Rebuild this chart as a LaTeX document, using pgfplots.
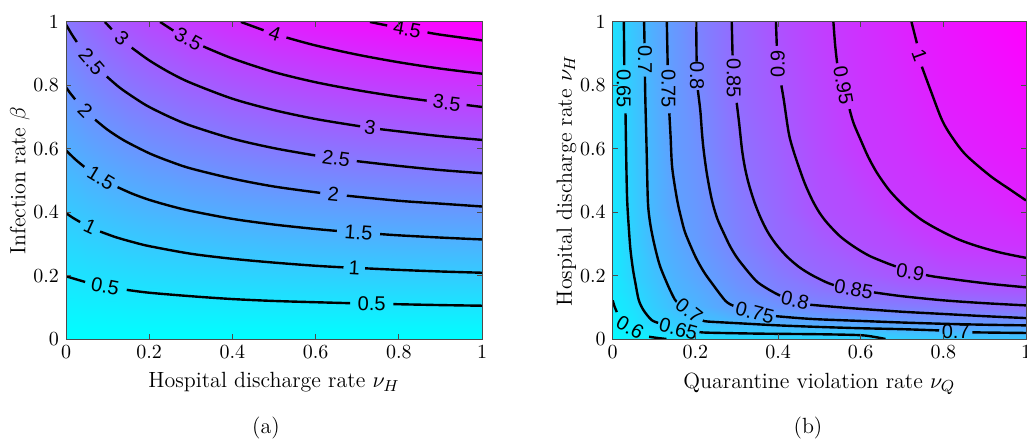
\documentclass[border=0pt]{standalone}
\usepackage{fontspec}
\newfontfamily\lab{Liberation Sans}
\usepackage{pgfplots}
\usepackage{pgfplotstable}
\pgfplotsset{compat=1.18}
\pgfplotsset{colormap={mcool}{rgb=(0,1,1) rgb=(1,0,1)}}

\pgfplotstableread{
x y z
0 0 0
0.05 0 0
0.1 0 0
0.15 0 0
0.2 0 0
0.3 0 0
0.4 0 0
0.5 0 0
0.6 0 0
0.7 0 0
0.8 0 0
0.9 0 0
1 0 0
0 0.2 0.504
0.05 0.2 0.559
0.1 0.2 0.606
0.15 0.2 0.647
0.2 0.2 0.683
0.3 0.2 0.743
0.4 0.2 0.791
0.5 0.2 0.831
0.6 0.2 0.864
0.7 0.2 0.892
0.8 0.2 0.916
0.9 0.2 0.937
1 0.2 0.956
0 0.4 1.008
0.05 0.4 1.118
0.1 0.4 1.212
0.15 0.4 1.294
0.2 0.4 1.366
0.3 0.4 1.486
0.4 0.4 1.582
0.5 0.4 1.662
0.6 0.4 1.728
0.7 0.4 1.784
0.8 0.4 1.833
0.9 0.4 1.875
1 0.4 1.912
0 0.6 1.512
0.05 0.6 1.676
0.1 0.6 1.817
0.15 0.6 1.940
0.2 0.6 2.048
0.3 0.6 2.229
0.4 0.6 2.374
0.5 0.6 2.493
0.6 0.6 2.592
0.7 0.6 2.677
0.8 0.6 2.749
0.9 0.6 2.812
1 0.6 2.867
0 0.8 2.016
0.05 0.8 2.235
0.1 0.8 2.423
0.15 0.8 2.587
0.2 0.8 2.731
0.3 0.8 2.972
0.4 0.8 3.165
0.5 0.8 3.324
0.6 0.8 3.456
0.7 0.8 3.569
0.8 0.8 3.666
0.9 0.8 3.750
1 0.8 3.823
0 1 2.520
0.05 1 2.794
0.1 1 3.029
0.15 1 3.234
0.2 1 3.414
0.3 1 3.715
0.4 1 3.956
0.5 1 4.155
0.6 1 4.320
0.7 1 4.461
0.8 1 4.582
0.9 1 4.687
1 1 4.779
}\gridA

\pgfplotstableread{
x y z
0 0 0.570
0.05 0 0.585
0.1 0 0.595
0.15 0 0.603
0.2 0 0.610
0.3 0 0.620
0.4 0 0.630
0.5 0 0.638
0.6 0 0.646
0.7 0 0.653
0.8 0 0.660
0.9 0 0.665
1 0 0.670
0 0.02 0.575
0.05 0.02 0.592
0.1 0.02 0.615
0.15 0.02 0.632
0.2 0.02 0.650
0.3 0.02 0.655
0.4 0.02 0.659
0.5 0.02 0.664
0.6 0.02 0.668
0.7 0.02 0.683
0.8 0.02 0.689
0.9 0.02 0.698
1 0.02 0.700
0 0.05 0.583
0.05 0.05 0.606
0.1 0.05 0.645
0.15 0.05 0.660
0.2 0.05 0.676
0.3 0.05 0.700
0.4 0.05 0.718
0.5 0.05 0.726
0.6 0.05 0.735
0.7 0.05 0.745
0.8 0.05 0.753
0.9 0.05 0.759
1 0.05 0.765
0 0.1 0.595
0.05 0.1 0.619
0.1 0.1 0.659
0.15 0.1 0.689
0.2 0.1 0.706
0.3 0.1 0.750
0.4 0.1 0.771
0.5 0.1 0.796
0.6 0.1 0.805
0.7 0.1 0.814
0.8 0.1 0.824
0.9 0.1 0.834
1 0.1 0.842
0 0.15 0.601
0.05 0.15 0.633
0.1 0.15 0.669
0.15 0.15 0.704
0.2 0.15 0.720
0.3 0.15 0.766
0.4 0.15 0.804
0.5 0.15 0.826
0.6 0.15 0.850
0.7 0.15 0.860
0.8 0.15 0.872
0.9 0.15 0.881
1 0.15 0.889
0 0.2 0.602
0.05 0.2 0.647
0.1 0.2 0.680
0.15 0.2 0.712
0.2 0.2 0.734
0.3 0.2 0.781
0.4 0.2 0.819
0.5 0.2 0.852
0.6 0.2 0.871
0.7 0.2 0.893
0.8 0.2 0.905
0.9 0.2 0.914
1 0.2 0.922
0 0.3 0.604
0.05 0.3 0.653
0.1 0.3 0.700
0.15 0.3 0.727
0.2 0.3 0.753
0.3 0.3 0.804
0.4 0.3 0.850
0.5 0.3 0.876
0.6 0.3 0.904
0.7 0.3 0.922
0.8 0.3 0.946
0.9 0.3 0.955
1 0.3 0.964
0 0.4 0.606
0.05 0.4 0.655
0.1 0.4 0.703
0.15 0.4 0.742
0.2 0.4 0.760
0.3 0.4 0.814
0.4 0.4 0.857
0.5 0.4 0.900
0.6 0.4 0.919
0.7 0.4 0.949
0.8 0.4 0.962
0.9 0.4 0.973
1 0.4 0.992
0 0.6 0.611
0.05 0.6 0.664
0.1 0.6 0.709
0.15 0.6 0.753
0.2 0.6 0.773
0.3 0.6 0.835
0.4 0.6 0.872
0.5 0.6 0.913
0.6 0.6 0.949
0.7 0.6 0.964
0.8 0.6 0.988
0.9 0.6 1.004
1 0.6 1.018
0 0.8 0.615
0.05 0.8 0.670
0.1 0.8 0.716
0.15 0.8 0.758
0.2 0.8 0.786
0.3 0.8 0.851
0.4 0.8 0.887
0.5 0.8 0.925
0.6 0.8 0.958
0.7 0.8 0.979
0.8 0.8 1.007
0.9 0.8 1.022
1 0.8 1.039
0 1 0.620
0.05 1 0.673
0.1 1 0.722
0.15 1 0.762
0.2 1 0.799
0.3 1 0.855
0.4 1 0.902
0.5 1 0.938
0.6 1 0.967
0.7 1 0.994
0.8 1 1.019
0.9 1 1.040
1 1 1.060
}\gridB

\pgfplotsset{
  myax/.style={
    scale only axis,
    xmin=0, xmax=1, ymin=0, ymax=1,
    xtick={0,0.2,0.4,0.6,0.8,1},
    ytick={0,0.2,0.4,0.6,0.8,1},
    tick align=inside,
    major tick length=2.5pt,
    axis line style={black!70, line width=0.5pt},
    every tick/.style={black!70, line width=0.5pt},
    colormap name=mcool,
    label style={font=\fontsize{11}{13}\selectfont},
    tick label style={font=\fontsize{10}{12}\selectfont},
    ylabel shift=-5pt,
    unbounded coords=jump,
    axis on top,
  },
}
\tikzset{
  cl/.style={black, line width=1.2pt, smooth},
  lb/.style={font=\lab\fontsize{10}{12}\selectfont, inner sep=0pt, text=black},
}

\begin{document}
\begin{tikzpicture}
\path[use as bounding box] (0,0) rectangle (513.5pt,219.5pt);

\begin{axis}[myax, at={(33pt,50pt)}, anchor=south west,
  width=208pt, height=158.5pt,
  point meta min=0, point meta max=4.779,
  xlabel={Hospital discharge rate $\nu_H$},
  ylabel={Infection rate $\beta$}]
\addplot[surf, shader=interp, mesh/cols=13, point meta=\thisrow{z}] table[x=x, y=y] {\gridA};
% contour 0.5
\addplot[cl] coordinates {(0,0.198) (0.02,0.190) (0.046,0.180) (nan,nan) (0.146,0.155) (0.2,0.146) (0.3,0.135) (0.4,0.126) (0.5,0.120) (0.6,0.116) (0.683,0.113) (nan,nan) (0.787,0.110) (0.9,0.107) (1,0.105)};
% contour 1
\addplot[cl] coordinates {(0,0.397) (0.017,0.382) (0.034,0.369) (nan,nan) (0.082,0.339) (0.12,0.321) (0.16,0.306) (0.2,0.293) (0.3,0.269) (0.4,0.253) (0.5,0.241) (0.6,0.231) (0.667,0.226) (nan,nan) (0.719,0.223) (0.8,0.218) (0.9,0.213) (1,0.209)};
% contour 1.5
\addplot[cl] coordinates {(0,0.595) (0.022,0.567) (0.044,0.543) (nan,nan) (0.124,0.479) (0.16,0.458) (0.2,0.439) (0.25,0.420) (0.3,0.404) (0.4,0.379) (0.5,0.361) (0.6,0.347) (0.651,0.341) (nan,nan) (0.755,0.331) (0.8,0.327) (0.9,0.320) (1,0.314)};
% contour 2
\addplot[cl] coordinates {(0,0.794) (0.011,0.774) (0.022,0.756) (nan,nan) (0.07,0.692) (0.1,0.660) (0.14,0.626) (0.2,0.586) (0.25,0.560) (0.3,0.538) (0.4,0.506) (0.5,0.481) (0.611,0.461) (nan,nan) (0.675,0.452) (0.8,0.436) (0.9,0.427) (1,0.418)};
% contour 2.5
\addplot[cl] coordinates {(0,0.992) (0.013,0.963) (0.026,0.937) (nan,nan) (0.098,0.828) (0.13,0.792) (0.17,0.756) (0.2,0.732) (0.25,0.700) (0.3,0.673) (0.4,0.632) (0.5,0.602) (0.599,0.579) (nan,nan) (0.699,0.561) (0.8,0.546) (0.9,0.533) (1,0.523)};
% contour 3
\addplot[cl] coordinates {(0.0934,1.0) (0.110,0.977) (nan,nan) (0.158,0.919) (0.2,0.879) (0.25,0.840) (0.3,0.808) (0.4,0.758) (0.5,0.722) (0.6,0.694) (0.707,0.671) (nan,nan) (0.755,0.662) (0.8,0.655) (0.9,0.640) (1,0.628)};
% contour 3.5
\addplot[cl] coordinates {(0.2263,1.0) (0.258,0.973) (nan,nan) (0.33,0.923) (0.4,0.885) (0.5,0.842) (0.6,0.810) (0.7,0.785) (0.8,0.764) (0.867,0.752) (nan,nan) (0.963,0.738) (1,0.732)};
% contour 4
\addplot[cl] coordinates {(0.4205,1.0) (0.475,0.974) (nan,nan) (0.53,0.951) (0.6,0.926) (0.7,0.897) (0.8,0.873) (0.9,0.853) (1,0.837)};
% contour 4.5
\addplot[cl] coordinates {(0.7306,1.0) (0.772,0.989) (nan,nan) (0.869,0.967) (0.9,0.960) (1,0.942)};
\node[lb, rotate=-11] at (axis cs:0.094,0.166) {0.5};
\node[lb, rotate=-1] at (axis cs:0.735,0.111) {0.5};
\node[lb, rotate=-25] at (axis cs:0.058,0.353) {1};
\node[lb, rotate=-3] at (axis cs:0.693,0.225) {1};
\node[lb, rotate=-31] at (axis cs:0.084,0.508) {1.5};
\node[lb, rotate=-4] at (axis cs:0.703,0.336) {1.5};
\node[lb, rotate=-45] at (axis cs:0.046,0.721) {2};
\node[lb, rotate=-6] at (axis cs:0.643,0.456) {2};
\node[lb, rotate=-49] at (axis cs:0.062,0.874) {2.5};
\node[lb, rotate=-8] at (axis cs:0.649,0.570) {2.5};
\node[lb, rotate=-42] at (axis cs:0.134,0.948) {3};
\node[lb, rotate=-8] at (axis cs:0.731,0.666) {3};
\node[lb, rotate=-28] at (axis cs:0.294,0.946) {3.5};
\node[lb, rotate=-7] at (axis cs:0.915,0.745) {3.5};
\node[lb, rotate=-18] at (axis cs:0.502,0.962) {4};
\node[lb, rotate=-10] at (axis cs:0.82,0.977) {4.5};
\end{axis}

\begin{axis}[myax, at={(306.35pt,50pt)}, anchor=south west,
  width=206.65pt, height=158.5pt,
  point meta min=0.56, point meta max=1.06,
  xlabel={Quarantine violation rate $\nu_Q$},
  ylabel={Hospital discharge rate $\nu_H$}]
\addplot[surf, shader=interp, mesh/cols=13, point meta=\thisrow{z}] table[x=x, y=y] {\gridB};
% 0.6
\addplot[cl] coordinates {(0,0.122) (0.004,0.104) (0.010,0.085) (nan,nan) (0.088,0.007) (0.11,0.003) (0.13,0.0)};
% 0.65
\addplot[cl] coordinates {(0.027,1.0) (0.028,0.864) (nan,nan) (0.031,0.712) (0.033,0.55) (0.035,0.438) (0.039,0.35) (0.043,0.281) (0.049,0.22) (0.055,0.176) (0.063,0.123) (0.075,0.09) (0.094,0.06) (0.11,0.051) (nan,nan) (0.21,0.022) (0.23,0.02) (0.35,0.017) (0.5,0.015) (0.6,0.012) (0.64,0.005) (0.66,0.0)};
% 0.7
\addplot[cl] coordinates {(0.076,1.0) (0.077,0.933) (nan,nan) (0.078,0.828) (0.079,0.754) (0.082,0.6) (0.085,0.438) (0.089,0.38) (0.095,0.333) (0.104,0.28) (0.115,0.228) (0.135,0.165) (0.15,0.125) (0.155,0.118) (nan,nan) (0.218,0.058) (0.231,0.055) (0.3,0.05) (0.4,0.043) (0.5,0.038) (0.6,0.034) (0.7,0.031) (0.79,0.027) (nan,nan) (0.87,0.021) (0.93,0.020) (1.0,0.019)};
% 0.75
\addplot[cl] coordinates {(0.131,1.0) (0.133,0.864) (nan,nan) (0.137,0.712) (0.14,0.64) (0.144,0.54) (0.156,0.438) (0.166,0.38) (0.176,0.333) (0.2,0.26) (0.22,0.213) (0.24,0.176) (0.273,0.12) (0.292,0.105) (nan,nan) (0.395,0.072) (0.45,0.066) (0.5,0.062) (0.6,0.057) (0.7,0.052) (0.8,0.048) (0.9,0.045) (1.0,0.043)};
% 0.8
\addplot[cl] coordinates {(0.202,1.0) (0.203,0.875) (nan,nan) (0.206,0.785) (0.212,0.72) (0.216,0.65) (0.22,0.596) (0.228,0.52) (0.24,0.438) (0.253,0.38) (0.269,0.333) (0.285,0.29) (0.305,0.249) (0.345,0.186) (0.37,0.162) (0.394,0.144) (0.405,0.137) (nan,nan) (0.478,0.108) (0.55,0.1) (0.6,0.095) (0.7,0.086) (0.8,0.079) (0.9,0.072) (1.0,0.066)};
% 0.85
\addplot[cl] coordinates {(0.288,1.0) (0.29,0.895) (nan,nan) (0.30,0.745) (0.306,0.68) (0.313,0.596) (0.32,0.54) (0.329,0.49) (0.342,0.435) (0.357,0.385) (0.374,0.34) (0.394,0.301) (0.42,0.262) (0.45,0.228) (0.48,0.203) (0.515,0.18) (0.535,0.17) (nan,nan) (0.632,0.147) (0.7,0.135) (0.8,0.122) (0.9,0.113) (1.0,0.106)};
% 0.9
\addplot[cl] coordinates {(0.395,1.0) (0.397,0.925) (nan,nan) (0.408,0.80) (0.414,0.754) (0.426,0.649) (0.437,0.595) (0.45,0.544) (0.465,0.49) (0.483,0.438) (0.50,0.399) (0.519,0.366) (0.55,0.324) (0.583,0.292) (0.62,0.263) (0.664,0.239) (0.685,0.229) (nan,nan) (0.758,0.202) (0.777,0.197) (0.85,0.184) (0.92,0.173) (1.0,0.163)};
% 0.95
\addplot[cl] coordinates {(0.534,1.0) (0.538,0.93) (0.543,0.87) (nan,nan) (0.573,0.725) (0.583,0.68) (0.6,0.628) (0.618,0.575) (0.64,0.523) (0.67,0.468) (0.705,0.42) (0.745,0.378) (0.785,0.347) (0.835,0.315) (0.882,0.293) (0.94,0.272) (1.0,0.256)};
% 1
\addplot[cl] coordinates {(0.723,1.0) (0.736,0.933) (nan,nan) (0.748,0.859) (0.769,0.785) (0.797,0.69) (0.822,0.635) (0.855,0.58) (0.914,0.514) (0.963,0.47) (1.0,0.437)};
\node[lb, rotate=-90] at (axis cs:0.027,0.79) {0.65};
\node[lb, rotate=-90] at (axis cs:0.078,0.882) {0.7};
\node[lb, rotate=-90] at (axis cs:0.135,0.79) {0.75};
\node[lb, rotate=-90] at (axis cs:0.204,0.83) {0.8};
\node[lb, rotate=-90] at (axis cs:0.293,0.822) {0.85};
\node[lb, rotate=90] at (axis cs:0.399,0.868) {0.9};
\node[lb, rotate=-80] at (axis cs:0.558,0.80) {0.95};
\node[lb, rotate=-70] at (axis cs:0.742,0.896) {1};
\node[lb, rotate=-30] at (axis cs:0.042,0.036) {0.6};
\node[lb, rotate=-15] at (axis cs:0.159,0.031) {0.65};
\node[lb, rotate=-38] at (axis cs:0.185,0.09) {0.7};
\node[lb, rotate=-14] at (axis cs:0.344,0.083) {0.75};
\node[lb, rotate=-14] at (axis cs:0.441,0.121) {0.8};
\node[lb, rotate=-10] at (axis cs:0.583,0.158) {0.85};
\node[lb, rotate=-10] at (axis cs:0.72,0.212) {0.9};
\node[lb] at (axis cs:0.83,0.024) {0.7};
\end{axis}

\node[font=\fontsize{11}{13}\selectfont] at (133pt,5.5pt) {(a)};
\node[font=\fontsize{11}{13}\selectfont] at (404pt,5.5pt) {(b)};
\end{tikzpicture}
\end{document}
